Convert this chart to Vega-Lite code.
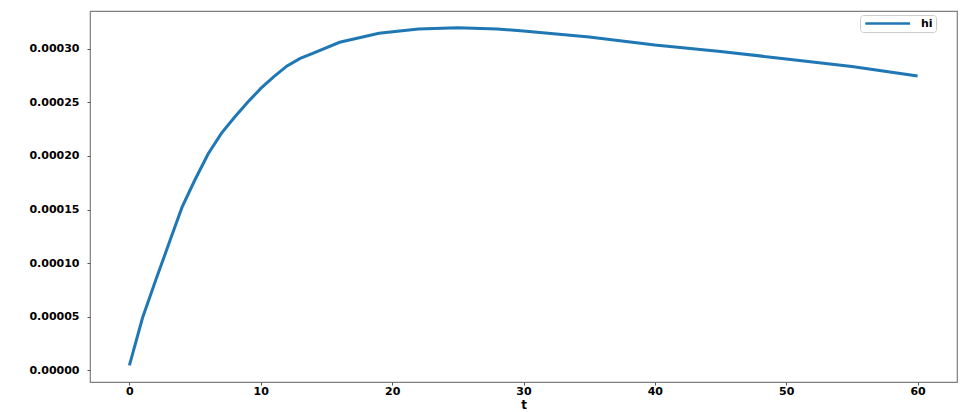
{
  "$schema": "https://vega.github.io/schema/vega-lite/v6.json",
  "autosize": "none",
  "width": 867,
  "height": 371,
  "padding": {"left": 90, "top": 11, "right": 3, "bottom": 30},
  "background": "white",
  "data": {
    "values": [
      {"t": 0, "value": 0.0000047, "series": "hi"},
      {"t": 1, "value": 0.000049, "series": "hi"},
      {"t": 2, "value": 0.000084, "series": "hi"},
      {"t": 3, "value": 0.000118, "series": "hi"},
      {"t": 4, "value": 0.000152, "series": "hi"},
      {"t": 5, "value": 0.000178, "series": "hi"},
      {"t": 6, "value": 0.000202, "series": "hi"},
      {"t": 7, "value": 0.000221, "series": "hi"},
      {"t": 8, "value": 0.000236, "series": "hi"},
      {"t": 9, "value": 0.00025, "series": "hi"},
      {"t": 10, "value": 0.000263, "series": "hi"},
      {"t": 11, "value": 0.000274, "series": "hi"},
      {"t": 12, "value": 0.000284, "series": "hi"},
      {"t": 13, "value": 0.000291, "series": "hi"},
      {"t": 14, "value": 0.000296, "series": "hi"},
      {"t": 16, "value": 0.000306, "series": "hi"},
      {"t": 19, "value": 0.0003145, "series": "hi"},
      {"t": 22, "value": 0.0003185, "series": "hi"},
      {"t": 25, "value": 0.0003195, "series": "hi"},
      {"t": 28, "value": 0.0003185, "series": "hi"},
      {"t": 30, "value": 0.0003165, "series": "hi"},
      {"t": 35, "value": 0.000311, "series": "hi"},
      {"t": 40, "value": 0.0003035, "series": "hi"},
      {"t": 45, "value": 0.0002975, "series": "hi"},
      {"t": 50, "value": 0.0002905, "series": "hi"},
      {"t": 55, "value": 0.0002835, "series": "hi"},
      {"t": 60, "value": 0.0002745, "series": "hi"}
    ]
  },
  "mark": {"type": "line", "strokeWidth": 3, "clip": true},
  "encoding": {
    "x": {
      "field": "t",
      "type": "quantitative",
      "scale": {"domain": [-3, 63], "nice": false, "zero": false},
      "axis": {"values": [0, 10, 20, 30, 40, 50, 60], "title": "t", "grid": false, "format": "d"}
    },
    "y": {
      "field": "value",
      "type": "quantitative",
      "scale": {"domain": [-0.0000109, 0.0003352], "nice": false, "zero": false},
      "axis": {"values": [0, 0.00005, 0.0001, 0.00015, 0.0002, 0.00025, 0.0003], "format": ".5f", "title": null, "grid": false}
    },
    "color": {
      "field": "series",
      "type": "nominal",
      "scale": {"range": ["#1f77b4"]},
      "legend": {
        "title": null,
        "orient": "none",
        "legendX": 770,
        "legendY": 4,
        "symbolType": "M-0.8,0H10.4",
        "symbolSize": 64,
        "symbolStrokeWidth": 2.5,
        "symbolFillColor": "transparent",
        "labelFont": "DejaVu Sans",
        "labelFontWeight": "bold",
        "labelFontSize": 11,
        "labelColor": "#000000",
        "labelOffset": 47,
        "labelExpr": "datum.label + '   '",
        "padding": 3,
        "strokeColor": "#cccccc",
        "cornerRadius": 3,
        "fillColor": "white"
      }
    }
  },
  "config": {
    "view": {"stroke": "#7f7f7f", "strokeWidth": 1.2},
    "axis": {
      "domain": false,
      "ticks": true,
      "tickSize": 3,
      "tickColor": "#555555",
      "labelFont": "DejaVu Sans",
      "labelFontWeight": "bold",
      "labelFontSize": 11,
      "labelColor": "#000000",
      "titleFont": "DejaVu Sans",
      "titleFontWeight": "bold",
      "titleFontSize": 12,
      "titleColor": "#000000"
    },
    "axisX": {"labelPadding": 0, "titlePadding": 3},
    "axisY": {"labelPadding": 8}
  }
}
